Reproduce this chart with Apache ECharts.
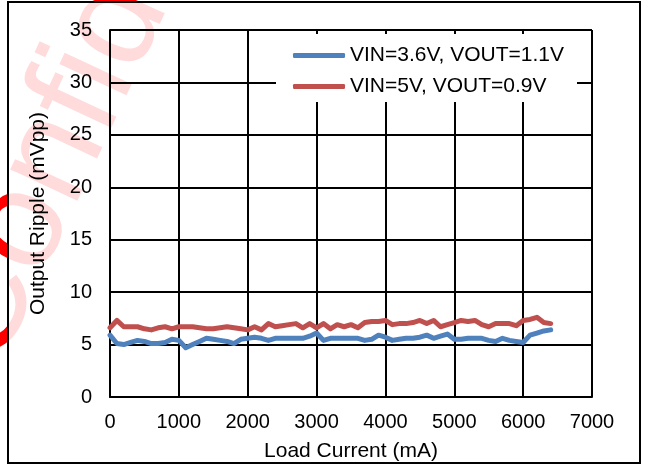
<!DOCTYPE html>
<html><head><meta charset="utf-8">
<script src="https://cdn.jsdelivr.net/npm/echarts@6/dist/echarts.min.js"></script>
<style>html,body{margin:0;padding:0;background:#fff}#c{width:651px;height:466px}</style>
</head><body><div id="c"></div><script>
const loadCurrent = [0,100,200,300,400,500,600,700,800,900,1000,1100,1200,1300,1400,1500,1600,1700,1800,1900,2000,2100,2200,2300,2400,2500,2600,2700,2800,2900,3000,3100,3200,3300,3400,3500,3600,3700,3800,3900,4000,4100,4200,4300,4400,4500,4600,4700,4800,4900,5000,5100,5200,5300,5400,5500,5600,5700,5800,5900,6000,6100,6200,6300,6400];
const ripple36 = [5.9,5.1,5.0,5.2,5.4,5.3,5.1,5.1,5.2,5.5,5.4,4.7,5.0,5.3,5.6,5.5,5.4,5.3,5.1,5.5,5.6,5.7,5.6,5.4,5.6,5.6,5.6,5.6,5.6,5.8,6.1,5.4,5.6,5.6,5.6,5.6,5.6,5.4,5.5,5.9,5.7,5.4,5.5,5.6,5.6,5.7,5.9,5.6,5.8,6.0,5.5,5.5,5.6,5.6,5.6,5.4,5.3,5.6,5.4,5.3,5.2,5.9,6.1,6.3,6.4];
const ripple5 = [6.6,7.3,6.7,6.7,6.7,6.5,6.4,6.6,6.7,6.5,6.7,6.7,6.7,6.6,6.5,6.5,6.6,6.7,6.6,6.5,6.4,6.7,6.4,7.0,6.7,6.8,6.9,7.0,6.6,7.0,6.6,7.0,6.5,6.9,6.7,6.9,6.6,7.1,7.2,7.2,7.3,6.9,7.0,7.0,7.1,7.3,7.0,7.3,6.7,6.9,7.1,7.3,7.2,7.3,6.9,6.7,7.0,7.0,7.0,6.8,7.3,7.4,7.6,7.1,7.0];
const seriesNames = ['VIN=3.6V, VOUT=1.1V', 'VIN=5V, VOUT=0.9V'];
const xTicks = [0,1000,2000,3000,4000,5000,6000,7000];
const yTicks = [0,5,10,15,20,25,30,35];
const xTitle = 'Load Current (mA)';
const yTitle = 'Output Ripple (mVpp)';
const watermark = 'Confidential';

const FONT = '"Liberation Sans", Arial, sans-serif';
const pair = (vals) => loadCurrent.map((x, i) => [x, vals[i]]);

const chart = echarts.init(document.getElementById('c'), null, {renderer: 'canvas'});
chart.setOption({
  animation: false,
  backgroundColor: '#fff',
  textStyle: {fontFamily: FONT},
  graphic: [
    {type: 'text', z: -10, x: 26, y: 385, rotation: 65 * Math.PI / 180,
     style: {text: watermark, fill: '#ff0000', font: '140px ' + FONT, textAlign: 'left', textVerticalAlign: 'bottom'}},
    {type: 'rect', z: -9, shape: {x: 9, y: 3, width: 630, height: 459},
     style: {fill: 'rgba(255,255,255,0.86)'}},
    {type: 'rect', z: 100, shape: {x: 8, y: 2, width: 632, height: 461},
     style: {fill: 'none', stroke: '#000', lineWidth: 2}}
  ],
  grid: {left: 110, right: 59, top: 30, bottom: 69, outerBoundsMode: 'none', containLabel: false},
  legend: {
    orient: 'vertical', left: 276, top: 34,
    padding: [11, 13, 5, 17], itemGap: 10,
    backgroundColor: '#fff',
    itemWidth: 52, itemHeight: 5, icon: 'roundRect',
    textStyle: {fontSize: 21, color: '#000', fontFamily: FONT, lineHeight: 21},
    data: seriesNames
  },
  xAxis: {
    type: 'value', min: xTicks[0], max: xTicks[xTicks.length - 1], interval: xTicks[1] - xTicks[0],
    name: xTitle, nameLocation: 'middle', nameGap: 44,
    nameTextStyle: {fontSize: 21, color: '#000', fontFamily: FONT},
    axisLine: {show: true, lineStyle: {color: '#000', width: 2}},
    axisTick: {show: false},
    axisLabel: {fontSize: 20, color: '#000', margin: 15, fontFamily: FONT, formatter: (v) => String(v)},
    splitLine: {show: true, lineStyle: {color: '#000', width: 2}}
  },
  yAxis: {
    type: 'value', min: yTicks[0], max: yTicks[yTicks.length - 1], interval: yTicks[1] - yTicks[0],
    name: yTitle, nameLocation: 'middle', nameGap: 61,
    nameTextStyle: {fontSize: 21, color: '#000', fontFamily: FONT},
    axisLine: {show: true, lineStyle: {color: '#000', width: 2}},
    axisTick: {show: false},
    axisLabel: {fontSize: 20, color: '#000', margin: 18, fontFamily: FONT, formatter: (v) => String(v)},
    splitLine: {show: true, lineStyle: {color: '#000', width: 2}}
  },
  series: [
    {name: seriesNames[0], type: 'line', data: pair(ripple36), showSymbol: false, symbol: 'none',
     color: '#4F81BD', lineStyle: {width: 5, color: '#4F81BD', cap: 'round', join: 'round'}},
    {name: seriesNames[1], type: 'line', data: pair(ripple5), showSymbol: false, symbol: 'none',
     color: '#C0504D', lineStyle: {width: 5, color: '#C0504D', cap: 'round', join: 'round'}}
  ]
});
</script></body></html>
